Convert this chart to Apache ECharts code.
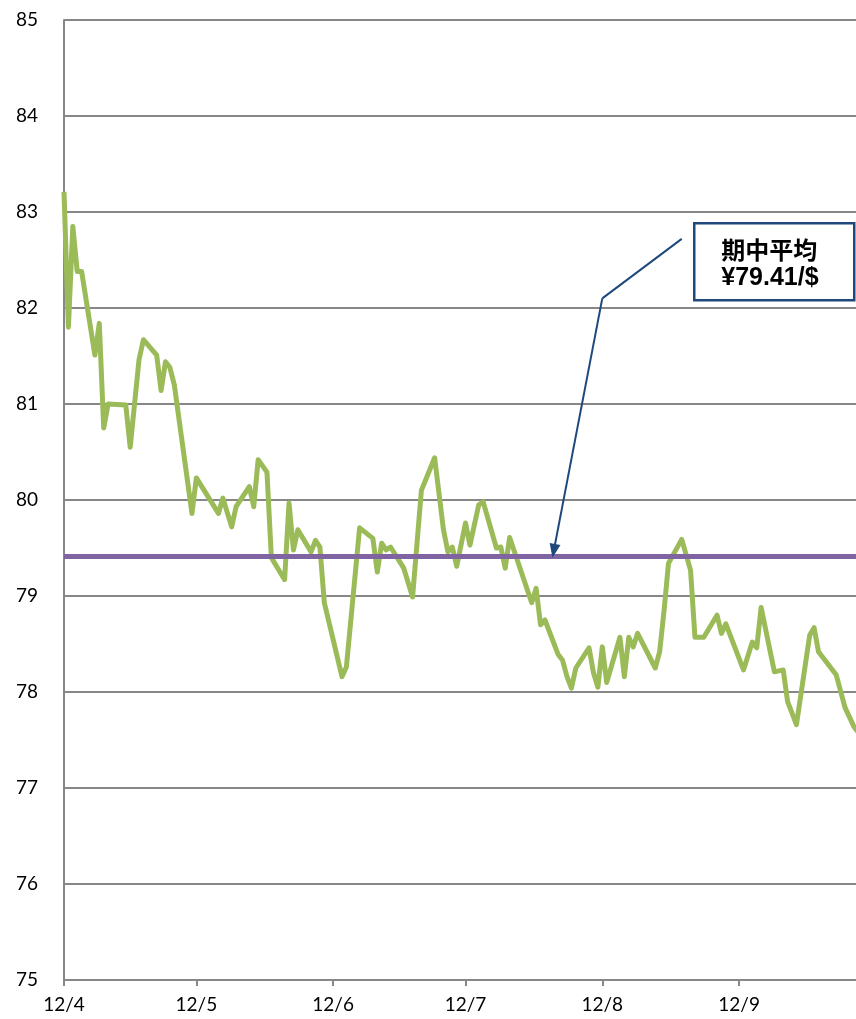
<!DOCTYPE html>
<html>
<head>
<meta charset="utf-8">
<script src="https://cdn.jsdelivr.net/npm/echarts@6/dist/echarts.min.js"></script>
<style>
  html, body { margin: 0; padding: 0; background: #fff; }
  #chart { width: 856px; height: 1019px; }
</style>
</head>
<body>
<div id="chart"></div>
<script>
// USD/JPY rate
const rateDates = [
  "2012-04-01", "2012-04-02", "2012-04-03", "2012-04-04", "2012-04-05", "2012-04-08",
  "2012-04-09", "2012-04-10", "2012-04-11", "2012-04-15", "2012-04-16", "2012-04-18",
  "2012-04-19", "2012-04-22", "2012-04-23", "2012-04-24", "2012-04-25", "2012-04-26",
  "2012-04-30", "2012-05-01", "2012-05-06", "2012-05-07", "2012-05-09", "2012-05-10",
  "2012-05-13", "2012-05-14", "2012-05-15", "2012-05-17", "2012-05-18", "2012-05-21",
  "2012-05-22", "2012-05-23", "2012-05-24", "2012-05-27", "2012-05-28", "2012-05-29",
  "2012-05-30", "2012-06-03", "2012-06-04", "2012-06-07", "2012-06-10", "2012-06-11",
  "2012-06-12", "2012-06-13", "2012-06-14", "2012-06-17", "2012-06-19", "2012-06-21",
  "2012-06-24", "2012-06-26", "2012-06-27", "2012-06-28", "2012-06-29", "2012-07-01",
  "2012-07-02", "2012-07-04", "2012-07-05", "2012-07-08", "2012-07-09", "2012-07-10",
  "2012-07-11", "2012-07-16", "2012-07-17", "2012-07-18", "2012-07-19", "2012-07-22",
  "2012-07-23", "2012-07-24", "2012-07-25", "2012-07-26", "2012-07-29", "2012-07-30",
  "2012-07-31", "2012-08-01", "2012-08-02", "2012-08-05", "2012-08-06", "2012-08-07",
  "2012-08-08", "2012-08-09", "2012-08-13", "2012-08-14", "2012-08-15", "2012-08-16",
  "2012-08-19", "2012-08-21", "2012-08-22", "2012-08-24", "2012-08-27", "2012-08-28",
  "2012-08-29", "2012-09-02", "2012-09-04", "2012-09-05", "2012-09-06", "2012-09-09",
  "2012-09-11", "2012-09-12", "2012-09-14", "2012-09-17", "2012-09-18", "2012-09-19",
  "2012-09-20", "2012-09-23", "2012-09-25", "2012-09-27", "2012-09-28"
];
const rateValues = [
  83.21, 81.80, 82.85, 82.38, 82.38, 81.51,
  81.84, 80.75, 81.00, 80.99, 80.55, 81.46,
  81.67, 81.51, 81.14, 81.44, 81.38, 81.20,
  79.86, 80.23, 79.86, 80.02, 79.72, 79.93,
  80.14, 79.93, 80.42, 80.29, 79.40, 79.17,
  79.97, 79.48, 79.69, 79.46, 79.58, 79.51,
  78.93, 78.16, 78.26, 79.71, 79.60, 79.25,
  79.55, 79.48, 79.51, 79.29, 78.99, 80.10,
  80.44, 79.69, 79.46, 79.51, 79.31, 79.76,
  79.53, 79.95, 79.98, 79.50, 79.51, 79.29,
  79.61, 78.93, 79.08, 78.70, 78.75, 78.39,
  78.33, 78.16, 78.04, 78.25, 78.46, 78.20,
  78.05, 78.47, 78.10, 78.57, 78.16, 78.57,
  78.47, 78.61, 78.25, 78.42, 78.85, 79.34,
  79.59, 79.27, 78.57, 78.57, 78.80, 78.61,
  78.71, 78.23, 78.52, 78.46, 78.88, 78.21,
  78.23, 77.90, 77.66, 78.59, 78.67, 78.42,
  78.36, 78.18, 77.84, 77.64, 77.58
];

const periodAverage = 79.41;
const monthTicks = ["2012-04-01", "2012-05-01", "2012-06-01", "2012-07-01", "2012-08-01", "2012-09-01"];
const monthLabels = ["12/4", "12/5", "12/6", "12/7", "12/8", "12/9"];
const axisStart = "2012-04-01";
const axisEnd = "2012-09-27 12:00";

// callout: box edge -> bend -> arrow tip on the average line
const calloutPath = [["2012-08-19", 82.72], ["2012-08-01", 82.10], ["2012-07-21", 79.47]];
const calloutLines = ["期中平均", "¥79.41/$"];

const GRID = "#878787";
const LABEL_FONT = "Lato, 'Open Sans', sans-serif";

const toTime = (d) => echarts.time.parse(d).getTime();
const tickTimes = monthTicks.map(toTime);
const toPoint = ([d, v]) => [toTime(d), v];

const chart = echarts.init(document.getElementById("chart"), undefined, { renderer: "canvas" });

chart.setOption({
  animation: false,
  backgroundColor: "#fff",
  grid: { left: 64, right: 0, top: 20, bottom: 39, outerBoundsMode: "none" },
  xAxis: {
    type: "value",
    min: toTime(axisStart),
    max: toTime(axisEnd),
    axisLine: { show: true, onZero: false, lineStyle: { color: GRID, width: 2 } },
    axisTick: { show: true, length: 6, customValues: tickTimes, lineStyle: { color: GRID, width: 2 } },
    axisLabel: {
      customValues: tickTimes,
      margin: 15,
      color: "#000",
      fontSize: 19,
      fontFamily: LABEL_FONT,
      formatter: (value) => {
        const i = tickTimes.indexOf(Number(value));
        return i >= 0 ? monthLabels[i] : "";
      },
    },
    splitLine: { show: false },
  },
  yAxis: {
    type: "value",
    min: 75,
    max: 85,
    interval: 1,
    axisLine: { show: true, lineStyle: { color: GRID, width: 2 } },
    axisTick: { show: false },
    axisLabel: { margin: 26, color: "#000", fontSize: 19, fontFamily: LABEL_FONT },
    splitLine: { show: true, lineStyle: { color: GRID, width: 2 } },
  },
  series: [
    {
      name: "USD/JPY",
      type: "line",
      data: rateDates.map((d, i) => [toTime(d), rateValues[i]]),
      showSymbol: false,
      smooth: false,
      clip: true,
      lineStyle: { color: "#9BBB59", width: 5, join: "round" },
      z: 2,
    },
    {
      name: "average",
      type: "line",
      data: [],
      z: 3,
      markLine: {
        silent: true,
        animation: false,
        symbol: ["none", "none"],
        label: { show: false },
        lineStyle: { color: "#8064A2", width: 5, type: "solid" },
        data: [{ yAxis: periodAverage }],
      },
    },
    {
      name: "callout",
      type: "line",
      data: [],
      z: 4,
      markLine: {
        silent: true,
        animation: false,
        symbol: ["none", "none"],
        symbolSize: [11, 14],
        label: { show: false },
        lineStyle: { color: "#1F497D", width: 2, type: "solid" },
        data: [
          [{ coord: toPoint(calloutPath[0]) }, { coord: toPoint(calloutPath[1]) }],
          [{ coord: toPoint(calloutPath[1]) }, { coord: toPoint(calloutPath[2]), symbol: "triangle" }],
        ],
      },
    },
  ],
  graphic: [
    {
      type: "group",
      left: 693,
      top: 222,
      children: [
        {
          type: "rect",
          shape: { x: 0, y: 0, width: 160, height: 77 },
          style: { fill: "#fff", stroke: "#1F497D", lineWidth: 2.5 },
        },
        {
          type: "text",
          x: 27,
          y: 27,
          style: {
            text: calloutLines[0],
            fill: "#000",
            font: "bold 24px 'Noto Sans CJK JP', sans-serif",
            align: "left",
            verticalAlign: "middle",
          },
        },
        {
          type: "text",
          x: 27,
          y: 55,
          style: {
            text: calloutLines[1],
            fill: "#000",
            font: "bold 25px 'Liberation Sans', Arial, sans-serif",
            align: "left",
            verticalAlign: "middle",
          },
        },
      ],
    },
  ],
});

window.addEventListener("resize", () => chart.resize());
</script>
</body>
</html>
